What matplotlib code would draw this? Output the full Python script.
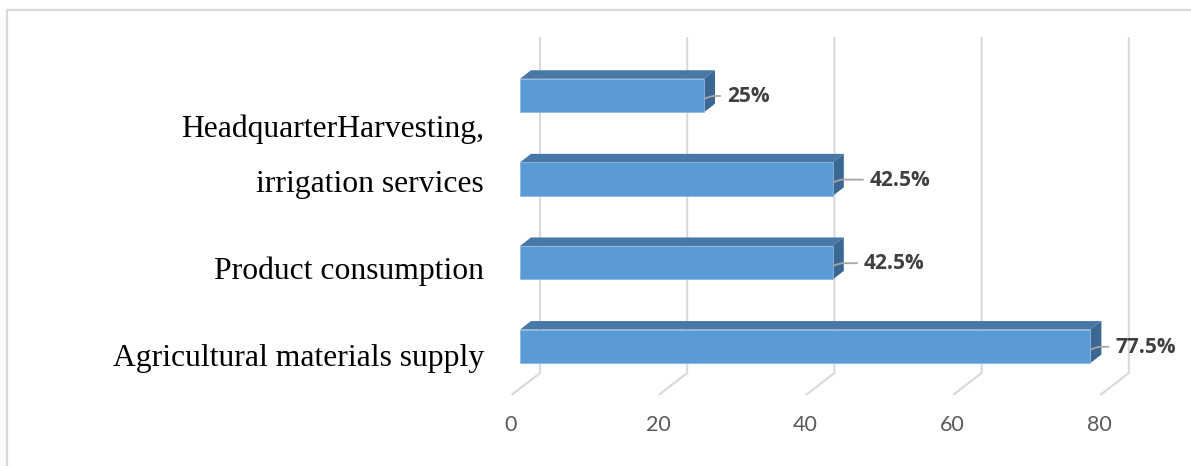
import matplotlib
matplotlib.use("Agg")
import matplotlib.pyplot as plt
from matplotlib.patches import Polygon, Rectangle
from matplotlib.lines import Line2D

# chart data
categories = ["", "HeadquarterHarvesting,\nirrigation services",
              "Product consumption", "Agricultural materials supply"]
values = [25, 42.5, 42.5, 77.5]
value_labels = ["25%", "42.5%", "42.5%", "77.5%"]
xticks = [0, 20, 40, 60, 80]

# layout (pixels of the 1191x466 picture)
W, H = 1191, 466
SX = 7.36    # px per value unit
SY = 83.6    # px per category step
X0 = 520     # px of value 0 on the bar front plane
Y0 = 95.5    # px of first bar centre
leader_px = [16, 30, 24, 18]   # leader line length per bar


def px(p):
    return p / SX


def py(p):
    return p / SY


fig = plt.figure(figsize=(W / 100, H / 100), dpi=100)
ax = fig.add_axes([0, 0, 1, 1])
ax.set_xlim(-X0 / SX, (W - X0) / SX)
ax.set_ylim((H - Y0) / SY, -Y0 / SY)
ax.axis("off")

grid_c = "#D9D9D9"
front_c = "#5B9BD5"
top_c = "#4878A8"
side_c = "#3A6893"

# 3d gridlines: back wall + floor diagonal
for v in xticks:
    bx = v + px(20)
    ax.plot([bx, bx, v + px(-8.5)], [py(37 - Y0), py(373 - Y0), py(395 - Y0)],
            color=grid_c, lw=1.5, solid_capstyle="butt", zorder=1)
    ax.text(v + px(-9), py(425 - Y0), str(v), ha="center", va="center",
            fontsize=15.5, color="#595959", family="Lato")

# bars
h = py(33.5)
dx, dy = px(11), py(-8.5)
for i, v in enumerate(values):
    y0, y1 = i - h / 2, i + h / 2
    ax.add_patch(Polygon([(0, y0), (v, y0), (v + dx, y0 + dy), (dx, y0 + dy)],
                         closed=True, facecolor=top_c, edgecolor="none", zorder=3))
    ax.add_patch(Polygon([(v, y0), (v, y1), (v + dx, y1 + dy), (v + dx, y0 + dy)],
                         closed=True, facecolor=side_c, edgecolor="none", zorder=3))
    ax.add_patch(Rectangle((0, y0), v, h, facecolor=front_c,
                           edgecolor="#8DB6E0", lw=0.6, zorder=4))
    # leader line + data label
    L = leader_px[i]
    ax.plot([v + px(1), v + px(5), v + px(9), v + px(L)],
            [i + py(3), i + py(1.5), i + py(0.5), i + py(0.5)],
            color="#A6A6A6", lw=1.3, zorder=5)
    ax.text(v + px(L + 7), i + py(1), value_labels[i], ha="left", va="center",
            fontsize=15, fontweight="bold", color="#404040", family="Open Sans")

# category labels (serif, right aligned, baselines 87 px apart)
for i, lab in enumerate(categories):
    lines = lab.split("\n")
    base = py(279 - Y0 + (i - 2) * 87)
    for k, line in enumerate(reversed(lines)):
        ax.text(px(484 - X0), base - py(55 * k), line, ha="right", va="baseline",
                fontsize=22.8, color="black", family="Liberation Serif")

# outer frame (top and left edges visible)
fig.add_artist(Line2D([7 / W, 7 / W, 1.0], [0.0, 1 - 10 / H, 1 - 10 / H],
                      transform=fig.transFigure, color=grid_c, lw=1.6))

fig.savefig("out.png", dpi=100)
